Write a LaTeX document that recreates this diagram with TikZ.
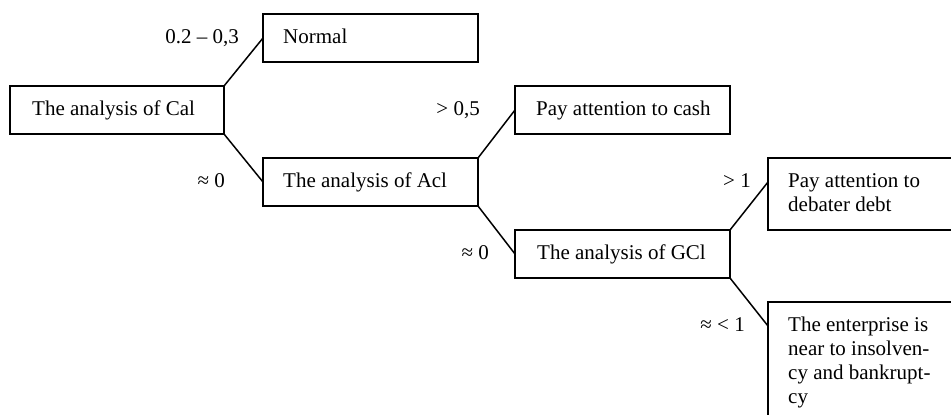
\documentclass[tikz,border=0pt]{standalone}
\usepackage{fontspec}
\setmainfont{Liberation Serif}
\begin{document}
\begin{tikzpicture}[x=1pt,y=-1pt,
  box/.style={draw, line width=1.5pt, rectangle, inner sep=0pt, outer sep=0pt, anchor=north west},
  txt/.style={anchor=base west, inner sep=0pt, font=\fontsize{21}{24}\selectfont},
  lbl/.style={anchor=base east, inner sep=0pt, font=\fontsize{21}{24}\selectfont},
  conn/.style={line width=1.5pt}]
\useasboundingbox (0,0) rectangle (951,415);
% boxes
\node[box, minimum width=214pt, minimum height=48pt] (cal) at (10,86) {};
\node[box, minimum width=215pt, minimum height=48pt] (normal) at (263,14) {};
\node[box, minimum width=215pt, minimum height=48pt] (acl) at (263,158) {};
\node[box, minimum width=215pt, minimum height=48pt] (cash) at (515,86) {};
\node[box, minimum width=215pt, minimum height=48pt] (gcl) at (515,230) {};
\node[box, minimum width=200pt, minimum height=72pt] (debt) at (768,158) {};
\node[box, minimum width=200pt, minimum height=130pt] (ent) at (768,302) {};
% texts
\node[txt] (calt) at ([shift={(22,29)}]cal.north west) {The analysis of Cal};
\node[txt] (normalt) at ([shift={(20,29)}]normal.north west) {Normal};
\node[txt] (aclt) at ([shift={(20,29)}]acl.north west) {The analysis of Acl};
\node[txt] (casht) at ([shift={(21,29)}]cash.north west) {Pay attention to cash};
\node[txt] (gclt) at ([shift={(22,29)}]gcl.north west) {The analysis of GCl};
\node[txt] (debt1) at ([shift={(20,29)}]debt.north west) {Pay attention to};
\node[txt] (debt2) at ([shift={(20,53)}]debt.north west) {debater debt};
\node[txt] (ent1) at ([shift={(20,29)}]ent.north west) {The enterprise is};
\node[txt] (ent2) at ([shift={(20,53)}]ent.north west) {near to insolven-};
\node[txt] (ent3) at ([shift={(20,77)}]ent.north west) {cy and bankrupt-};
\node[txt] (ent4) at ([shift={(20,101)}]ent.north west) {cy};
% connector end points
\coordinate (debtin) at ([shift={(0,24)}]debt.north west);
\coordinate (entin) at ([shift={(0,24)}]ent.north west);
% connectors
\draw[conn] (cal.north east) -- (normal.west);
\draw[conn] (cal.south east) -- (acl.west);
\draw[conn] (acl.north east) -- (cash.west);
\draw[conn] (acl.south east) -- (gcl.west);
\draw[conn] (gcl.north east) -- (debtin);
\draw[conn] (gcl.south east) -- (entin);
% labels
\node[lbl] (l1) at (239,43) {0.2 – 0,3};
\node[lbl] (l2) at (225,187) {≈ 0};
\node[lbl] (l3) at (480,115) {> 0,5};
\node[lbl] (l4) at (489,259) {≈ 0};
\node[lbl] (l5) at (751,187) {> 1};
\node[lbl] (l6) at (745,331) {≈ < 1};
\end{tikzpicture}
\end{document}
